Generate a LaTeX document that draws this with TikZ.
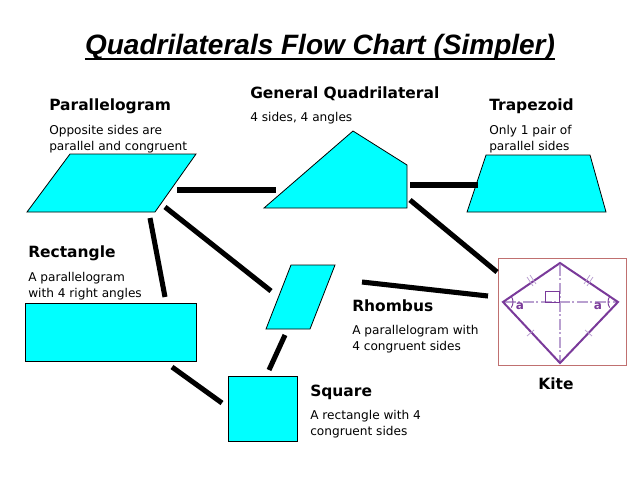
\documentclass[tikz,border=0pt]{standalone}
\usepackage{fontspec}
\setmainfont{DejaVu Sans}
\newfontfamily\titlefont{Liberation Sans}
\definecolor{aqua}{HTML}{00FFFF}
\definecolor{kitepurple}{HTML}{7A3A9A}
\definecolor{kitelight}{HTML}{B9A0D0}
\definecolor{kitebox}{HTML}{C07070}
\begin{document}
\begin{tikzpicture}[x=0.75pt,y=-0.75pt,
  shapefill/.style={fill=aqua,draw=black,line width=0.6pt},
  conn/.style={line width=3.8pt,line cap=butt},
  head/.style={anchor=base west,inner sep=0pt,font=\fontsize{11.6}{12}\selectfont\bfseries},
  desc/.style={anchor=base west,inner sep=0pt,align=left,font=\fontsize{9.1}{12}\selectfont},
  kline/.style={draw=kitepurple,line width=1.5pt},
  kdash/.style={draw=kitelight,line width=0.8pt,dash pattern=on 8pt off 2pt on 1.5pt off 2pt},
  ktick/.style={draw=kitelight,line width=0.6pt}]
\useasboundingbox (0,0) rectangle (638,479);
% title
\node[inner sep=0pt,anchor=base] (title) at (320,54) {\titlefont\fontsize{21}{24}\selectfont\bfseries\itshape Quadrilaterals Flow Chart (Simpler)};
\draw[line width=1.5pt] ([yshift=-4pt]title.base west) -- ([yshift=-4pt]title.base east);
% shapes
\draw[shapefill] (70,154) -- (196,154) -- (155,212) -- (27,212) -- cycle;
\draw[shapefill] (264,208) -- (353,131) -- (407,165) -- (407,208) -- cycle;
\draw[shapefill] (486,155) -- (590,155) -- (606,212) -- (467,212) -- cycle;
\draw[shapefill] (25,303) rectangle (196,361);
\draw[shapefill] (291,265) -- (335,265) -- (310,329) -- (266,329) -- cycle;
\draw[shapefill] (228,376) rectangle (297,441);
% kite picture
\node[draw=kitebox,line width=0.8pt,minimum width=127.5*0.75pt,minimum height=107*0.75pt,inner sep=0pt] (kite) at (562.5,312) {};
\draw[kdash] (560,265) -- (560,362);
\draw[kdash] (505,302) -- (616,302);
\draw[draw=kitepurple,line width=0.7pt] (545,291) rectangle (559,302);
\draw[kline,line join=miter] (560,263) -- (618,302) -- (560,363) -- (503,302) -- cycle;
\draw[draw=kitepurple,line width=0.7pt] (503,302) ++(-34:10) arc[start angle=-34,end angle=34,radius=10];
\draw[draw=kitepurple,line width=0.7pt] (618,302) ++(146:10) arc[start angle=146,end angle=214,radius=10];
\node[text=kitepurple,font=\fontsize{9}{10}\selectfont\bfseries,inner sep=0pt] (a1) at (520,306) {a};
\node[text=kitepurple,font=\fontsize{9}{10}\selectfont\bfseries,inner sep=0pt] (a2) at (598,306) {a};
\draw[ktick] (527,277) -- (533,286) (530,275) -- (536,284);
\draw[ktick] (593,277) -- (587,286) (590,275) -- (584,284);
\draw[ktick] (527,336) -- (534,330);
\draw[ktick] (592,336) -- (585,330);
% texts (multi-line nodes: base = last line)
\node[head] (tpar) at (49,110) {Parallelogram};
\node[desc] (dpar) at (49,150) {Opposite sides are\\parallel and congruent};
\node[head] (tgen) at (250,98) {General Quadrilateral};
\node[desc] (dgen) at (250,121) {4 sides, 4 angles};
\node[head] (ttra) at (489,110) {Trapezoid};
\node[desc] (dtra) at (489,150) {Only 1 pair of\\parallel sides};
\node[head] (trec) at (28,257) {Rectangle};
\node[desc] (drec) at (28,297) {A parallelogram\\with 4 right angles};
\node[head] (trho) at (352,311) {Rhombus};
\node[desc] (drho) at (352,350) {A parallelogram with\\4 congruent sides};
\node[head] (tsqu) at (310,396) {Square};
\node[desc] (dsqu) at (310,435) {A rectangle with 4\\congruent sides};
\node[head,anchor=base] (tkit) at (556,389) {Kite};
% connector ends
\coordinate (c1a) at (177,190); \coordinate (c1b) at (276,190);
\coordinate (c2a) at (410,185); \coordinate (c2b) at (478,185);
\coordinate (c3a) at (165,207); \coordinate (c3b) at (271,291);
\coordinate (c4a) at (150,218); \coordinate (c4b) at (165,297);
\coordinate (c5a) at (410,200); \coordinate (c5b) at (497,272);
\coordinate (c6a) at (362,282); \coordinate (c6b) at (488,296);
\coordinate (c7a) at (285,335); \coordinate (c7b) at (269,370);
\coordinate (c8a) at (172,367); \coordinate (c8b) at (222,403);
\draw[conn] (c1a) -- (c1b);
\draw[conn] (c2a) -- (c2b);
\draw[conn] (c3a) -- (c3b);
\draw[conn] (c4a) -- (c4b);
\draw[conn] (c5a) -- (c5b);
\draw[conn] (c6a) -- (c6b);
\draw[conn] (c7a) -- (c7b);
\draw[conn] (c8a) -- (c8b);
\end{tikzpicture}
\end{document}
